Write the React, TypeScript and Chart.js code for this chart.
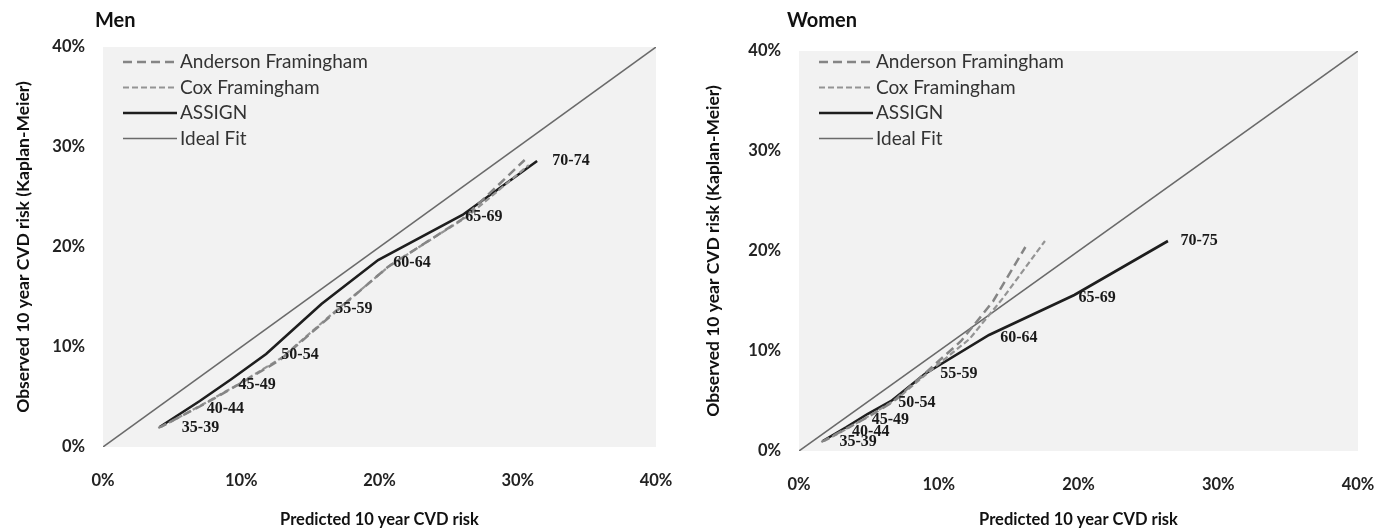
import React, { useEffect, useRef } from 'react';
import { Chart, registerables } from 'chart.js';

Chart.register(...registerables);

// ---- Men ----
const ageGroupsMen = ['35-39', '40-44', '45-49', '50-54', '55-59', '60-64', '65-69', '70-74'];
const menPredAnderson = [4.0, 7.2, 9.5, 12.8, 16.8, 20.6, 26.0, 30.5];
const menObsAnderson = [1.9, 4.2, 6.0, 8.7, 13.5, 18.0, 22.8, 28.7];
const menPredCox = [4.2, 7.4, 9.7, 12.9, 16.9, 20.8, 26.3, 30.8];
const menObsCox = [2.0, 4.4, 6.2, 8.9, 13.7, 18.2, 23.0, 28.2];
const menPredAssign = [4.1, 7.0, 9.3, 11.8, 15.8, 19.9, 26.0, 31.4];
const menObsAssign = [2.0, 4.6, 6.8, 9.3, 14.3, 18.7, 23.2, 28.6];
const menLabelX = [5.7, 7.5, 9.8, 12.9, 16.8, 21.0, 26.2, 32.5];
const menLabelY = [1.9, 3.8, 6.2, 9.2, 13.8, 18.4, 23.0, 28.6];

// ---- Women ----
const ageGroupsWomen = ['35-39', '40-44', '45-49', '50-54', '55-59', '60-64', '65-69', '70-75'];
const womenPredAnderson = [1.6, 3.2, 4.8, 6.6, 8.8, 11.6, 13.9, 16.2];
const womenObsAnderson = [0.9, 2.1, 3.3, 4.8, 7.5, 11.0, 15.0, 20.4];
const womenPredCox = [1.8, 3.4, 5.0, 7.0, 9.2, 12.2, 14.6, 17.6];
const womenObsCox = [1.0, 2.2, 3.5, 5.2, 7.8, 11.2, 15.3, 21.0];
const womenPredAssign = [1.7, 3.4, 4.9, 6.6, 9.0, 13.6, 19.7, 26.4];
const womenObsAssign = [1.0, 2.4, 3.7, 5.0, 7.7, 11.6, 15.6, 21.0];
const womenLabelX = [2.9, 3.8, 5.2, 7.1, 10.1, 14.4, 20.0, 27.3];
const womenLabelY = [0.9, 1.9, 3.1, 4.8, 7.7, 11.3, 15.3, 21.0];

// ---- Ideal fit ----
const idealX = [0, 40];
const idealY = [0, 40];

const tickValues = [0, 10, 20, 30, 40];
const seriesNames = ['Anderson Framingham', 'Cox Framingham', 'ASSIGN', 'Ideal Fit'];
const xTitle = 'Predicted 10 year CVD risk';
const yTitle = 'Observed 10 year CVD risk (Kaplan-Meier)';

const SANS = 'Lato, "Open Sans", "DejaVu Sans", sans-serif';
const SERIF = '"Liberation Serif", "DejaVu Serif", serif';

type Panel = {
  title: string;
  groups: string[];
  andX: number[]; andY: number[];
  coxX: number[]; coxY: number[];
  asgX: number[]; asgY: number[];
  labX: number[]; labY: number[];
  plotLeft: number; padRight: number; plotTop: number; xAxisHeight: number;
  legendTop: number; titleOffset: number;
};

const pts = (xs: number[], ys: number[]) => xs.map((x, i) => ({ x, y: ys[i] }));

const bgPlugin = {
  id: 'plotBg',
  beforeDatasetsDraw(chart: any) {
    const { ctx, chartArea: a } = chart;
    ctx.save();
    ctx.fillStyle = '#f2f2f2';
    ctx.fillRect(a.left, a.top, a.right - a.left, a.bottom - a.top);
    ctx.restore();
  },
};

function overlayPlugin(p: Panel) {
  return {
    id: 'overlay',
    afterDatasetsDraw(chart: any) {
      const { ctx, chartArea: a, scales } = chart;
      ctx.save();
      // age group labels
      ctx.font = `bold 16px ${SERIF}`;
      ctx.fillStyle = '#1a1a1a';
      ctx.textAlign = 'left';
      ctx.textBaseline = 'middle';
      p.groups.forEach((g, i) => {
        ctx.fillText(g, scales.x.getPixelForValue(p.labX[i]), scales.y.getPixelForValue(p.labY[i]));
      });
      // legend
      const lx = a.left + 20;
      chart.data.datasets.forEach((ds: any, i: number) => {
        const y = a.top + p.legendTop + i * 25.5;
        ctx.beginPath();
        ctx.strokeStyle = ds.borderColor;
        ctx.lineWidth = ds.borderWidth;
        ctx.setLineDash(ds.borderDash || []);
        ctx.moveTo(lx, y);
        ctx.lineTo(lx + 54, y);
        ctx.stroke();
        ctx.setLineDash([]);
        ctx.font = `19px ${SANS}`;
        ctx.fillStyle = '#333';
        ctx.textAlign = 'left';
        ctx.textBaseline = 'middle';
        ctx.fillText(ds.label, lx + 57, y);
      });
      // panel title
      ctx.font = `bold 20px ${SANS}`;
      ctx.fillStyle = '#111';
      ctx.fillText(p.title, a.left - p.titleOffset, 21);
      ctx.restore();
    },
  };
}

function buildConfig(p: Panel): any {
  const tickFont = { family: SANS, size: 16.5, weight: 'bold' as const };
  return {
    type: 'line',
    data: {
      datasets: [
        { label: seriesNames[0], data: pts(p.andX, p.andY), borderColor: '#858585', borderWidth: 2.5, borderDash: [9, 5], pointRadius: 0, tension: 0, fill: false },
        { label: seriesNames[1], data: pts(p.coxX, p.coxY), borderColor: '#949494', borderWidth: 2.2, borderDash: [6, 3], pointRadius: 0, tension: 0, fill: false },
        { label: seriesNames[2], data: pts(p.asgX, p.asgY), borderColor: '#1e1e1e', borderWidth: 2.6, pointRadius: 0, tension: 0, fill: false },
        { label: seriesNames[3], data: pts(idealX, idealY), borderColor: '#6a6a6a', borderWidth: 1.5, pointRadius: 0, tension: 0, fill: false },
      ],
    },
    options: {
      animation: false,
      responsive: false,
      devicePixelRatio: 1,
      layout: { padding: { left: 0, right: p.padRight, top: p.plotTop, bottom: 0 } },
      plugins: { legend: { display: false }, tooltip: { enabled: false }, title: { display: false } },
      scales: {
        x: {
          type: 'linear', min: 0, max: 40,
          afterBuildTicks: (s: any) => { s.ticks = tickValues.map((v) => ({ value: v })); },
          ticks: { callback: (v: any) => v + '%', padding: 24, font: tickFont, color: '#222', maxRotation: 0, autoSkip: false },
          grid: { display: false, drawTicks: false },
          border: { display: false },
          title: { display: true, text: xTitle, font: { family: SANS, size: 16.5, weight: 'bold' }, color: '#111', padding: { top: 0, bottom: 2 } },
          afterFit: (s: any) => { s.height = p.xAxisHeight; s.paddingLeft = 0; s.paddingRight = 0; },
        },
        y: {
          type: 'linear', min: 0, max: 40,
          afterBuildTicks: (s: any) => { s.ticks = tickValues.map((v) => ({ value: v })); },
          ticks: { callback: (v: any) => v + '%', padding: 18, font: tickFont, color: '#222', autoSkip: false },
          grid: { display: false, drawTicks: false },
          border: { display: false },
          title: { display: true, text: yTitle, font: { family: SANS, size: 17.5, weight: 'bold' }, color: '#111', padding: { top: 13, bottom: 0 } },
          afterFit: (s: any) => { s.width = p.plotLeft; s.paddingTop = 0; s.paddingBottom = 0; },
        },
      },
    },
    plugins: [bgPlugin, overlayPlugin(p)],
  };
}

const menPanel: Panel = {
  title: 'Men', groups: ageGroupsMen,
  andX: menPredAnderson, andY: menObsAnderson,
  coxX: menPredCox, coxY: menObsCox,
  asgX: menPredAssign, asgY: menObsAssign,
  labX: menLabelX, labY: menLabelY,
  plotLeft: 103, padRight: 34, plotTop: 47, xAxisHeight: 85, legendTop: 15, titleOffset: 8,
};

const womenPanel: Panel = {
  title: 'Women', groups: ageGroupsWomen,
  andX: womenPredAnderson, andY: womenObsAnderson,
  coxX: womenPredCox, coxY: womenObsCox,
  asgX: womenPredAssign, asgY: womenObsAssign,
  labX: womenLabelX, labY: womenLabelY,
  plotLeft: 109, padRight: 22, plotTop: 51, xAxisHeight: 81, legendTop: 11, titleOffset: 12,
};

function PanelChart({ panel }: { panel: Panel }) {
  const ref = useRef<HTMLCanvasElement | null>(null);
  useEffect(() => {
    if (!ref.current) return;
    const chart = new Chart(ref.current, buildConfig(panel));
    return () => chart.destroy();
  }, [panel]);
  return <canvas ref={ref} width={690} height={532} style={{ display: 'block', width: 690, height: 532 }} />;
}

export default function App() {
  return (
    <div style={{ position: 'absolute', left: 0, top: 0, width: 1380, height: 532, display: 'flex', background: '#fff' }}>
      <PanelChart panel={menPanel} />
      <PanelChart panel={womenPanel} />
    </div>
  );
}
